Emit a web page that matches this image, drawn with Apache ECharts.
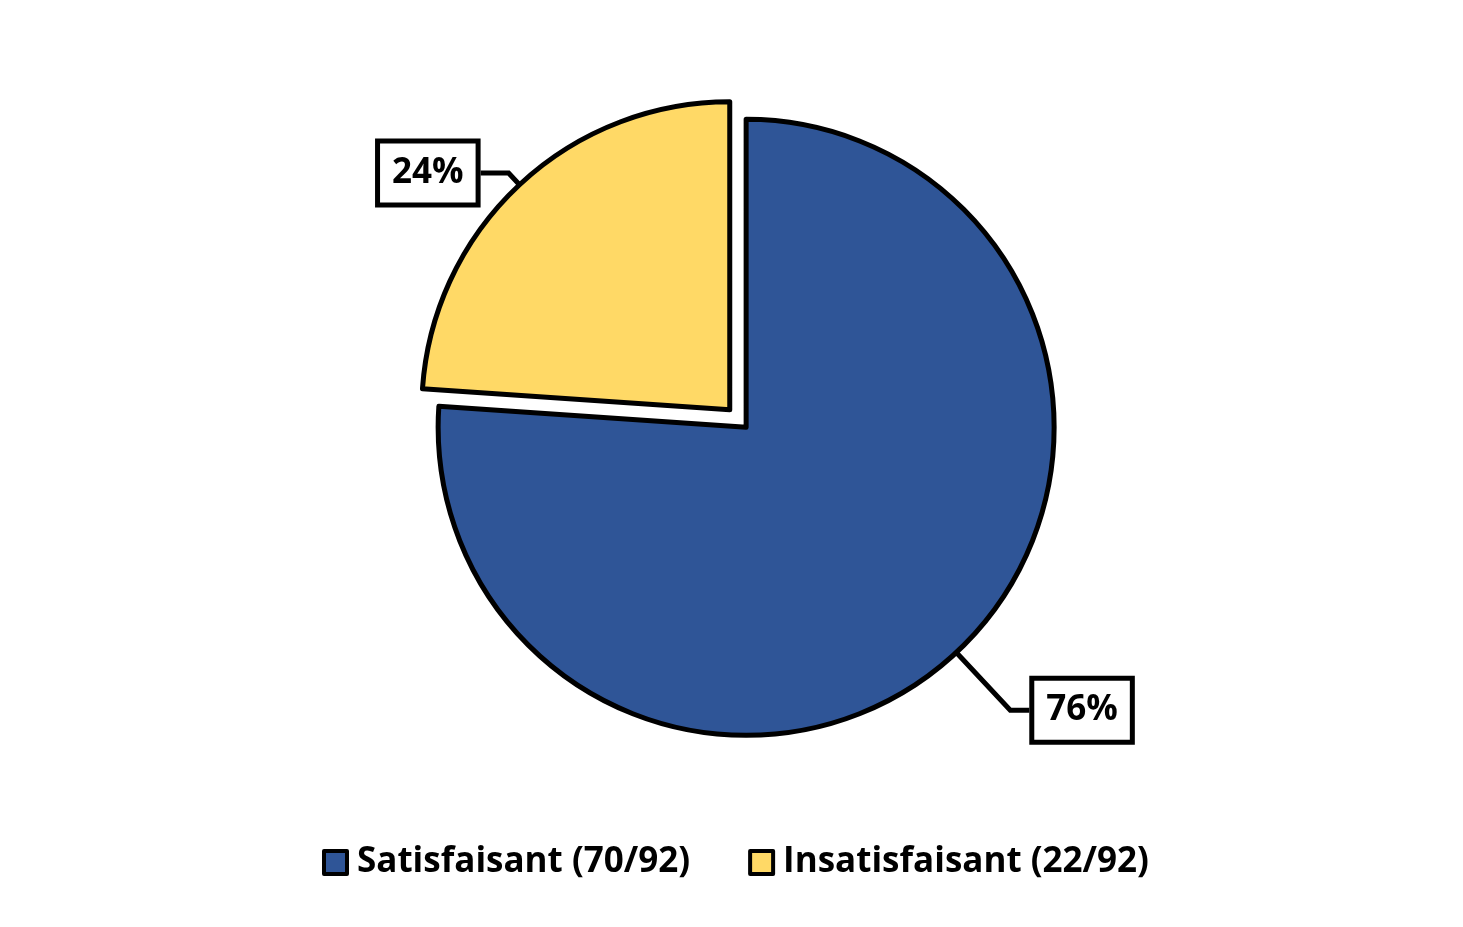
<!DOCTYPE html>
<html>
<head>
<meta charset="utf-8">
<script src="https://cdn.jsdelivr.net/npm/echarts@6/dist/echarts.min.js"></script>
<style>
html,body{margin:0;padding:0;background:#fff;}
#chart{width:1463px;height:927px;}
</style>
</head>
<body>
<div id="chart"></div>
<script>
const categories = ['Satisfaisant (70/92)', 'Insatisfaisant (22/92)'];
const values = [70, 22];
const colors = ['#2F5597', '#FFD966'];
// label line lengths per slice: [radial, horizontal]
const lineLens = [[79, 19], [16, 28]];

const chart = echarts.init(document.getElementById('chart'));
const FONT = 'Open Sans';
chart.setOption({
  animation: false,
  backgroundColor: '#ffffff',
  legend: {
    bottom: 42,
    left: 317,
    itemGap: 58,
    itemWidth: 23,
    itemHeight: 23,
    icon: 'rect',
    itemStyle: { borderColor: '#000', borderWidth: 4 },
    textStyle: { fontFamily: FONT, fontWeight: 'bold', fontSize: 35, color: '#000', padding: [0, 0, 0, 5] },
    data: categories
  },
  series: [{
    type: 'pie',
    center: ['51%', '46.1%'],
    radius: 308,
    startAngle: 90,
    clockwise: true,
    percentPrecision: 0,
    selectedMode: 'single',
    selectedOffset: 24,
    avoidLabelOverlap: false,
    itemStyle: { borderColor: '#000', borderWidth: 5 },
    label: {
      show: true,
      position: 'outside',
      formatter: '{d}%',
      fontFamily: FONT,
      fontWeight: 'bold',
      fontSize: 35,
      color: '#000',
      backgroundColor: '#fff',
      borderColor: '#000',
      borderWidth: 5,
      padding: [13, 12, 11, 12]
    },
    labelLine: { show: true, lineStyle: { color: '#000', width: 5 } },
    data: categories.map((c, i) => ({
      name: c,
      value: values[i],
      selected: i === 1,
      itemStyle: { color: colors[i] },
      labelLine: { length: lineLens[i][0], length2: lineLens[i][1] }
    }))
  }]
});
</script>
</body>
</html>
